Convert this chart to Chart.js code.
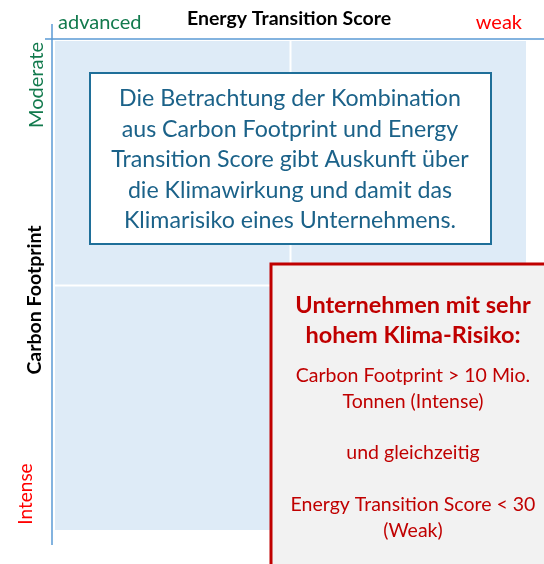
<!DOCTYPE html>
<html>
<head>
<meta charset="utf-8">
<script src="https://cdn.jsdelivr.net/npm/chart.js@4/dist/chart.umd.min.js"></script>
<style>
  html, body { margin: 0; padding: 0; background: #ffffff; }
  #wrap { width: 544px; height: 564px; }
</style>
</head>
<body>
<div id="wrap"><canvas id="c" width="544" height="564"></canvas></div>
<script>
// ---- content ----
const xTitle = 'Energy Transition Score';
const yTitle = 'Carbon Footprint';
const xCategories = ['advanced', 'weak'];      // left -> right
const yCategories = ['Moderate', 'Intense'];   // top -> bottom
// 2x2 quadrant grid in scale units: [xMin, xMax, yMin, yMax]
const quadrants = [
  [0, 1, 0, 1],
  [1, 2, 0, 1],
  [0, 1, 1, 2],
  [1, 2, 1, 2]
];
const infoLines = [
  'Die Betrachtung der Kombination',
  'aus Carbon Footprint und Energy',
  'Transition Score gibt Auskunft über',
  'die Klimawirkung und damit das',
  'Klimarisiko eines Unternehmens.'
];
const riskTitleLines = ['Unternehmen mit sehr', 'hohem Klima-Risiko:'];
const riskLines = [
  'Carbon Footprint > 10 Mio.',
  'Tonnen (Intense)',
  '',
  'und gleichzeitig',
  '',
  'Energy Transition Score < 30',
  '(Weak)'
];

const FONT = 'Lato, "Open Sans", sans-serif';

const diagramPlugin = {
  id: 'diagram',
  beforeDatasetsDraw(chart) {
    const ctx = chart.ctx;
    const xs = chart.scales.x, ys = chart.scales.y;
    const ca = chart.chartArea;
    ctx.save();
    // quadrants
    ctx.fillStyle = '#deebf7';
    const gap = 1;
    quadrants.forEach(q => {
      let x0 = xs.getPixelForValue(q[0]), x1 = xs.getPixelForValue(q[1]);
      let y0 = ys.getPixelForValue(q[2]), y1 = ys.getPixelForValue(q[3]);
      if (q[0] > xs.min) x0 += gap;
      if (q[1] < xs.max) x1 -= gap;
      if (q[2] > ys.min) y0 += gap;
      if (q[3] < ys.max) y1 -= gap;
      ctx.fillRect(x0, y0, x1 - x0, y1 - y0);
    });
    // axis lines
    ctx.strokeStyle = '#5b9bd5';
    ctx.lineWidth = 1.5;
    ctx.beginPath();
    ctx.moveTo(ca.left - 10, ca.top - 2);
    ctx.lineTo(chart.width, ca.top - 2);
    ctx.moveTo(ca.left - 3, ca.top - 17);
    ctx.lineTo(ca.left - 3, ca.bottom + 15);
    ctx.stroke();

    // top labels
    ctx.textBaseline = 'alphabetic';
    ctx.font = 'bold 19.5px ' + FONT;
    ctx.fillStyle = '#000000';
    ctx.textAlign = 'center';
    ctx.fillText(xTitle, 289, 25);
    ctx.font = '20px ' + FONT;
    ctx.fillStyle = '#127a4d';
    ctx.textAlign = 'left';
    ctx.fillText(xCategories[0], ca.left + 3, 29);
    ctx.fillStyle = '#ff0000';
    ctx.textAlign = 'right';
    ctx.fillText(xCategories[1], ca.right - 4, 29);

    // left labels (rotated)
    const rot = (text, x, y, font, color) => {
      ctx.save();
      ctx.translate(x, y);
      ctx.rotate(-Math.PI / 2);
      ctx.font = font;
      ctx.fillStyle = color;
      ctx.textAlign = 'center';
      ctx.fillText(text, 0, 0);
      ctx.restore();
    };
    rot(yCategories[0], 43, 85, '20px ' + FONT, '#127a4d');
    rot(yTitle, 41, 300, 'bold 19.5px ' + FONT, '#000000');
    rot(yCategories[1], 32, 494, '19px ' + FONT, '#ff0000');

    // info box
    ctx.fillStyle = '#ffffff';
    ctx.fillRect(90, 73, 401, 171);
    ctx.strokeStyle = '#1f6f99';
    ctx.lineWidth = 2;
    ctx.strokeRect(90, 73, 401, 171);
    ctx.font = '23.2px ' + FONT;
    ctx.fillStyle = '#1b6289';
    ctx.textAlign = 'center';
    infoLines.forEach((t, i) => ctx.fillText(t, 290, 106 + i * 30.6));

    // risk box
    ctx.fillStyle = '#f2f2f2';
    ctx.fillRect(271, 264, 300, 320);
    ctx.strokeStyle = '#c00000';
    ctx.lineWidth = 3;
    ctx.strokeRect(271, 264, 300, 320);
    ctx.fillStyle = '#c00000';
    ctx.font = 'bold 23.5px ' + FONT;
    riskTitleLines.forEach((t, i) => ctx.fillText(t, 413, 313 + i * 30));
    ctx.font = '19.5px ' + FONT;
    riskLines.forEach((t, i) => { if (t) ctx.fillText(t, 413, 382 + i * 25.8); });
    ctx.restore();
  }
};

new Chart(document.getElementById('c'), {
  type: 'scatter',
  data: { datasets: [{ data: [], pointRadius: 0 }] },
  options: {
    responsive: false,
    devicePixelRatio: 1,
    animation: false,
    layout: { padding: { left: 55, top: 41, right: 18, bottom: 34 } },
    plugins: { legend: { display: false }, tooltip: { enabled: false }, title: { display: false } },
    scales: {
      x: { type: 'linear', min: 0, max: 2, display: false },
      y: { type: 'linear', min: 0, max: 2, reverse: true, display: false }
    }
  },
  plugins: [diagramPlugin]
});
</script>
</body>
</html>
